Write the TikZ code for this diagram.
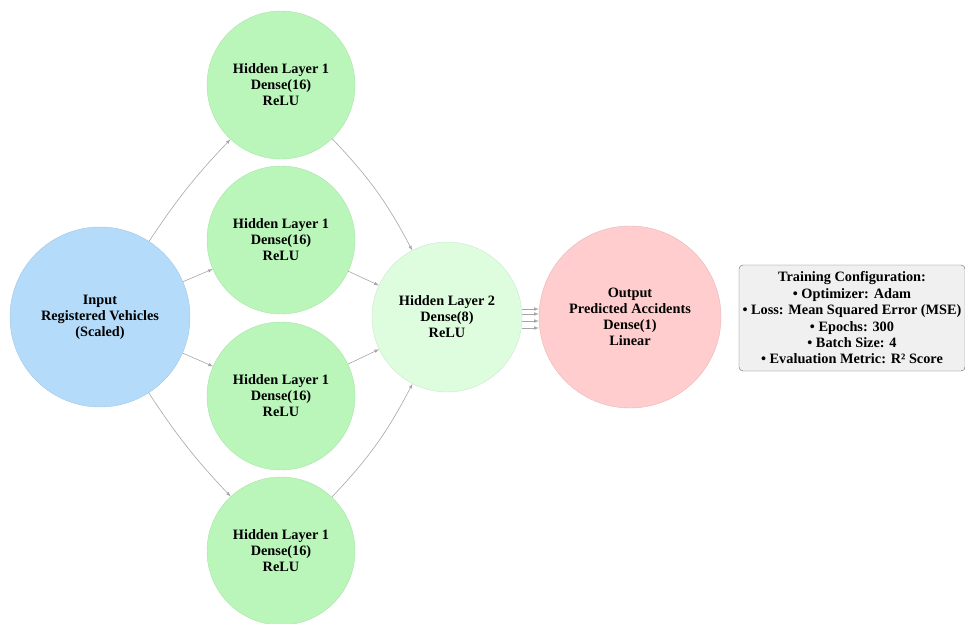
\documentclass[tikz,border=0pt]{standalone}
\usepackage{fontspec}
\setmainfont{Liberation Serif}
\usetikzlibrary{arrows}

\definecolor{inblue}{RGB}{180,220,250}
\definecolor{hidgreen}{RGB}{186,246,186}
\definecolor{hidlight}{RGB}{222,252,222}
\definecolor{outred}{RGB}{255,205,205}
\definecolor{cfgfill}{RGB}{240,240,240}

\begin{document}
\begin{tikzpicture}[x=1pt, y=-1pt, >=latex,
  layer/.style = {circle, inner sep=0pt, align=center,
                  font=\bfseries\fontsize{14.3}{16}\selectfont},
  inlayer/.style = {layer, fill=inblue, draw=inblue!90!black, minimum size=180pt},
  hidone/.style = {layer, fill=hidgreen, draw=hidgreen!92!black, minimum size=148pt},
  hidtwo/.style = {layer, fill=hidlight, draw=hidlight!92!black, minimum size=150pt},
  outlayer/.style = {layer, fill=outred, draw=outred!90!black, minimum size=182pt},
  edge/.style = {->, draw=black!35, line width=0.6pt}]
\useasboundingbox (0,0) rectangle (965,623);

% nodes
\node[inlayer] (in) at (100,317) {Input\\Registered Vehicles\\(Scaled)};
\node[hidone] (h1a) at (281,85)  {Hidden Layer 1\\Dense(16)\\ReLU};
\node[hidone] (h1b) at (281,240) {Hidden Layer 1\\Dense(16)\\ReLU};
\node[hidone] (h1c) at (281,396) {Hidden Layer 1\\Dense(16)\\ReLU};
\node[hidone] (h1d) at (281,551) {Hidden Layer 1\\Dense(16)\\ReLU};
\node[hidtwo] (h2) at (447,317) {Hidden Layer 2\\Dense(8)\\ReLU};
\node[outlayer] (out) at (630,317) {Output\\Predicted Accidents\\Dense(1)\\Linear};
\node[draw=black!60, fill=cfgfill, rounded corners=4pt, align=center,
      minimum width=226pt, minimum height=106pt, inner sep=1pt,
      font=\bfseries\fontsize{14.3}{16.4}\selectfont] (cfg) at (852,318)
  {Training Configuration:\\
   • Optimizer: Adam\\
   • Loss: Mean Squared Error (MSE)\\
   • Epochs: 300\\
   • Batch Size: 4\\
   • Evaluation Metric: R² Score};

% input -> hidden 1
\draw[edge] (in) to[bend left=5] (h1a);
\draw[edge] (in) -- (h1b);
\draw[edge] (in) -- (h1c);
\draw[edge] (in) to[bend right=5] (h1d);
% hidden 1 -> hidden 2
\draw[edge] (h1a) to[bend left=8] (h2);
\draw[edge] (h1b) -- (h2);
\draw[edge] (h1c) -- (h2);
\draw[edge] (h1d) to[bend right=8] (h2);
% hidden 2 -> output
\foreach \dy in {8,3,-4,-11}
  \draw[edge] ([yshift=\dy pt]h2.east) -- ([yshift=\dy pt]out.west);
\end{tikzpicture}
\end{document}
